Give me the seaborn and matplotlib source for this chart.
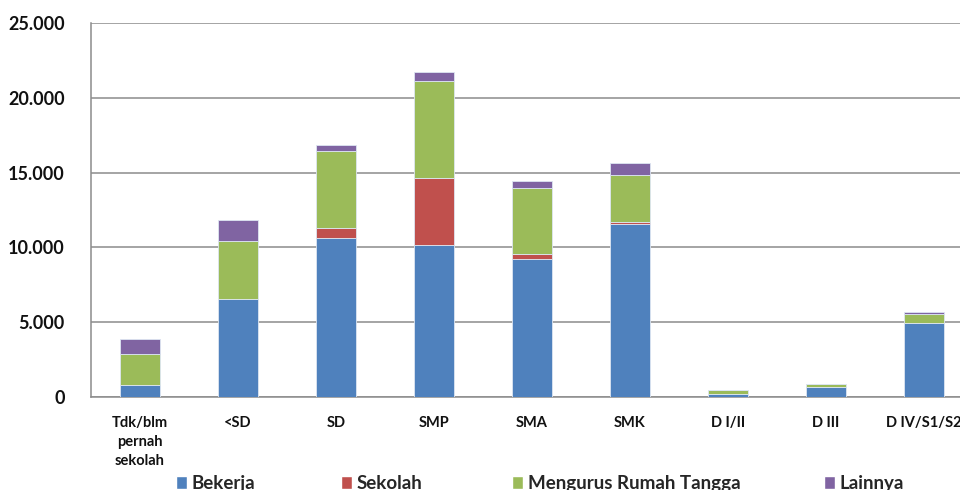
import matplotlib
matplotlib.use('Agg')
import matplotlib.pyplot as plt
from matplotlib.ticker import FuncFormatter
from matplotlib.patches import Patch
import numpy as np
import seaborn as sns

# data
categories = ['Tdk/blm\npernah\nsekolah', '<SD', 'SD', 'SMP', 'SMA', 'SMK', 'D I/II', 'D III', 'D IV/S1/S2']
bekerja = [780, 6550, 10650, 10180, 9220, 11560, 220, 670, 4950]
sekolah = [0, 0, 650, 4430, 340, 140, 0, 0, 20]
rumah_tangga = [2120, 3900, 5120, 6530, 4410, 3160, 220, 200, 600]
lainnya = [1000, 1350, 420, 580, 490, 760, 20, 20, 130]

series = [
    ('Bekerja', bekerja, '#4F81BD'),
    ('Sekolah', sekolah, '#C0504D'),
    ('Mengurus Rumah Tangga', rumah_tangga, '#9BBB59'),
    ('Lainnya', lainnya, '#8064A2'),
]

sns.set_style('white')
plt.rcParams['font.family'] = ['Lato', 'DejaVu Sans']
plt.rcParams['font.weight'] = 'bold'

fig = plt.figure(figsize=(9.6, 4.9), dpi=100)
ax = fig.add_axes([91 / 960, 1 - 397 / 490, 882 / 960, 374 / 490])

bottom = np.zeros(len(categories))
for name, vals, col in series:
    sns.barplot(x=categories, y=vals, bottom=bottom, color=col, width=0.4, saturation=1,
                edgecolor='#dde6f2', linewidth=0.6, ax=ax, zorder=3)
    bottom += np.array(vals)

ax.set_ylim(0, 25000)
ax.set_xlim(-0.5, len(categories) - 0.5)
ax.set_yticks(range(0, 25001, 5000))
ax.yaxis.set_major_formatter(FuncFormatter(lambda v, p: f'{v:,.0f}'.replace(',', '.')))
ax.grid(axis='y', color='#8c8c8c', linewidth=1.1, zorder=0)

ax.set_xticks(np.arange(len(categories)))
ax.set_xticklabels(categories, fontsize=10.5, fontweight='bold', color='#111111',
                   linespacing=1.45, va='top')
ax.set_xticks(np.arange(-0.5, len(categories), 1), minor=True)
ax.tick_params(axis='x', which='major', length=0, pad=14)
ax.tick_params(axis='x', which='minor', length=5, color='#8c8c8c', direction='out')
ax.tick_params(axis='y', length=3, color='#8c8c8c', direction='out', pad=16,
               labelsize=13, labelcolor='#111111')
for lab in ax.get_yticklabels():
    lab.set_fontweight('bold')

for s in ['top', 'right']:
    ax.spines[s].set_visible(False)
for s in ['left', 'bottom']:
    ax.spines[s].set_color('#8c8c8c')
    ax.spines[s].set_linewidth(1.1)

# legend entries spread along the bottom like the original
legend_x = [0.183, 0.355, 0.533, 0.858]
for (name, vals, col), lx in zip(series, legend_x):
    fig.legend(handles=[Patch(facecolor=col, label=name)], loc='center left',
               bbox_to_anchor=(lx, 0.014), frameon=False, borderaxespad=0, borderpad=0,
               handlelength=0.6, handleheight=0.7, handletextpad=0.25,
               prop={'size': 13.5, 'weight': 'bold'})

plt.savefig('out.png', dpi=100)
